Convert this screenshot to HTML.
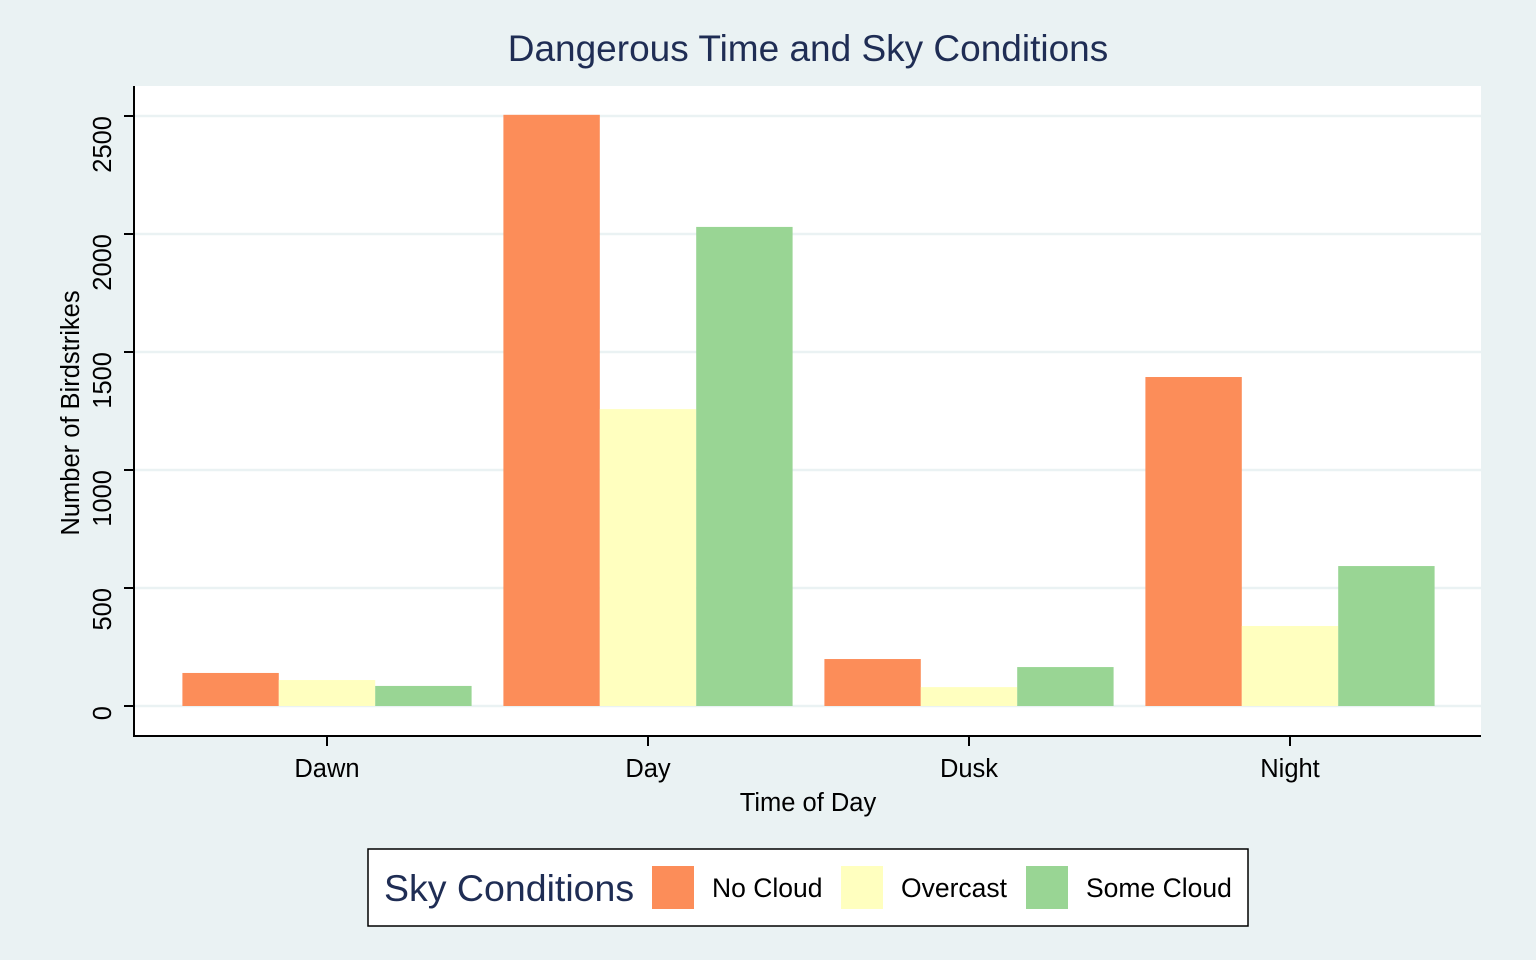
<!DOCTYPE html>
<html><head><meta charset="utf-8"><style>
body{margin:0;background:#eaf2f3;}
svg{display:block;font-family:"Liberation Sans",Arial,sans-serif;}
</style></head><body>
<svg id="chart" width="1536" height="960">
<rect x="0" y="0" width="1536" height="960" fill="#eaf2f3"/>
<text x="808" y="61" text-anchor="middle" font-size="37" fill="#1f2d54">Dangerous Time and Sky Conditions</text>
<rect x="134" y="86" width="1347" height="650" fill="#ffffff"/>
<g id="grid"></g><g id="bars"></g><g id="axes"></g>
<text transform="translate(79,413) rotate(-90)" text-anchor="middle" font-size="25.5" fill="#000">Number of Birdstrikes</text>
<text x="808" y="811" text-anchor="middle" font-size="25.5" fill="#000">Time of Day</text>
<g>
<rect x="368" y="849" width="880" height="77" fill="#fff" stroke="#000" stroke-width="1.5"/>
<text x="384" y="901" font-size="37.5" fill="#1f2d54">Sky Conditions</text>
<rect x="652" y="866" width="42" height="43" fill="#fc8d59"/>
<text x="712" y="897" font-size="26.5">No Cloud</text>
<rect x="841" y="866" width="42" height="43" fill="#ffffbf"/>
<text x="901" y="897" font-size="26.5">Overcast</text>
<rect x="1026" y="866" width="42" height="43" fill="#99d594"/>
<text x="1086" y="897" font-size="26.5">Some Cloud</text>
</g>
</svg>
<script>
const categories=["Dawn","Day","Dusk","Night"];
const noCloud=[140,2505,199,1394];
const overcast=[110,1258,80,339];
const someCloud=[85,2030,165,593];
const yTicks=[0,500,1000,1500,2000,2500];
const seriesNames=["no-cloud","overcast","some-cloud"];
const colors=["#fc8d59","#ffffbf","#99d594"];
const NS="http://www.w3.org/2000/svg";
const y=v=>706-v*0.236;
const xc=i=>327+i*321;
const bw=96.4;
function mk(t,a,p){const e=document.createElementNS(NS,t);for(const k in a)e.setAttribute(k,a[k]);p.appendChild(e);return e;}
const grid=document.getElementById('grid'),bars=document.getElementById('bars'),axes=document.getElementById('axes');
yTicks.forEach(v=>{
 const g=mk('line',{x1:134,x2:1481,y1:y(v),y2:y(v),stroke:'#eaf2f3','stroke-width':2.5},grid);
 
 
 const t=mk('line',{x1:124,x2:134,y1:y(v),y2:y(v),stroke:'#000','stroke-width':2},axes);
 
 
 const l=mk('text',{transform:`translate(111,${y(v)}) rotate(-90)`,'text-anchor':'end','font-size':25.5},axes);
 l.textContent=v;
 
 
});
[noCloud,overcast,someCloud].forEach((s,j)=>{
 s.forEach((v,i)=>{
  const x=xc(i)-1.5*bw+j*bw;
  const r=mk('rect',{x:x,y:y(v),width:bw,height:y(0)-y(v),fill:colors[j]},bars);
  
  
 });
});
const ya=mk('line',{x1:134,x2:134,y1:86,y2:737,stroke:'#000','stroke-width':2},axes);


const xa=mk('line',{x1:133,x2:1481,y1:736,y2:736,stroke:'#000','stroke-width':2},axes);


categories.forEach((c,i)=>{
 const t=mk('line',{x1:xc(i),x2:xc(i),y1:736,y2:746,stroke:'#000','stroke-width':2},axes);
 
 
 const l=mk('text',{x:xc(i),y:777,'text-anchor':'middle','font-size':25.5},axes);
 l.textContent=c;
 
 
});
</script>
</body></html>
